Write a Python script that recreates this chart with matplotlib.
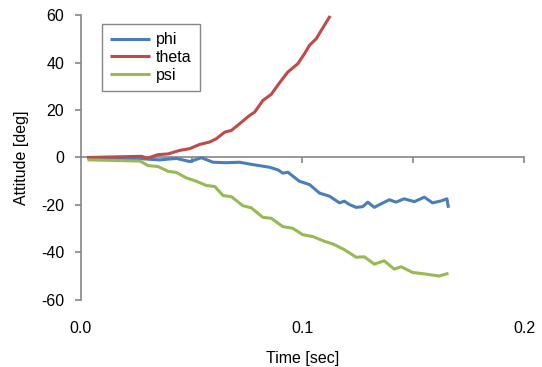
import numpy as np
import matplotlib
matplotlib.use('Agg')
import matplotlib.pyplot as plt

plt.rcParams['font.family'] = ['Liberation Sans', 'DejaVu Sans']
plt.rcParams['axes.unicode_minus'] = False

# time [sec] and attitude [deg]
t_theta = [0.0028, 0.0273, 0.0300, 0.0348, 0.0393, 0.0446, 0.0490, 0.0536, 0.0580,
           0.0611, 0.0649, 0.0679, 0.0716, 0.0761, 0.0784, 0.0821, 0.0859, 0.0896,
           0.0934, 0.0979, 0.1009, 0.1032, 0.1062, 0.1099, 0.1125]
theta = [0.0, 0.5, -0.3, 1.2, 1.5, 3.0, 3.7, 5.5, 6.5,
         7.9, 10.7, 11.4, 14.2, 17.7, 19.1, 24.0, 26.6, 31.4,
         36.0, 39.5, 43.7, 47.3, 50.0, 55.7, 59.6]

t_phi = [0.0030, 0.0266, 0.0356, 0.0431, 0.0491, 0.0544, 0.0596, 0.0656, 0.0716,
         0.0776, 0.0851, 0.0889, 0.0911, 0.0934, 0.0986, 0.1032, 0.1077, 0.1122,
         0.1167, 0.1189, 0.1212, 0.1242, 0.1272, 0.1295, 0.1324, 0.1355, 0.1392,
         0.1422, 0.1459, 0.1505, 0.1550, 0.1587, 0.1625, 0.1652, 0.1659]
phi = [-0.5, -0.5, -1.0, -0.4, -1.7, -0.1, -2.0, -2.2, -2.0,
       -3.0, -4.1, -5.2, -6.6, -6.2, -10.0, -11.4, -15.0, -16.3,
       -19.1, -18.4, -19.8, -21.0, -20.7, -18.8, -21.0, -19.5, -17.8,
       -18.8, -17.4, -18.6, -16.7, -19.1, -18.3, -17.4, -21.2]

t_psi = [0.0030, 0.0266, 0.0303, 0.0348, 0.0393, 0.0431, 0.0476, 0.0521, 0.0566,
         0.0604, 0.0641, 0.0679, 0.0731, 0.0769, 0.0821, 0.0859, 0.0911, 0.0956,
         0.1001, 0.1047, 0.1099, 0.1137, 0.1189, 0.1242, 0.1279, 0.1324, 0.1369,
         0.1414, 0.1445, 0.1497, 0.1557, 0.1617, 0.1659]
psi = [-1.0, -1.5, -3.4, -3.8, -5.8, -6.3, -8.6, -10.0, -11.8,
       -12.2, -16.0, -16.5, -20.3, -21.2, -25.2, -25.6, -29.1, -29.8,
       -32.5, -33.3, -35.3, -36.4, -38.8, -42.0, -41.8, -44.9, -43.5,
       -47.0, -46.0, -48.4, -49.1, -49.9, -48.8]

y_ticks = [-60, -40, -20, 0, 20, 40, 60]
x_labels = [0.0, 0.1, 0.2]

# %%
axis_grey = '#868686'
fs = 11.5
fig = plt.figure(figsize=(5.42, 3.67), dpi=100)
ax = fig.add_axes([0.1494, 0.1826, 0.8174, 0.7765])

style = dict(lw=2.2, solid_joinstyle='round', solid_capstyle='butt')
ax.plot(t_phi, phi, color='#4a7ebb', label='phi', **style)
ax.plot(t_theta, theta, color='#be4b48', label='theta', **style)
ax.plot(t_psi, psi, color='#98b954', label='psi', **style)

ax.set_xlim(0, 0.2)
ax.set_ylim(-60, 60)

for s in ['top', 'right']:
    ax.spines[s].set_visible(False)
ax.spines['left'].set_color(axis_grey)
ax.spines['left'].set_linewidth(1.2)
ax.spines['bottom'].set_position(('data', 0))
ax.spines['bottom'].set_color(axis_grey)
ax.spines['bottom'].set_linewidth(1.2)
ax.spines['bottom'].set_zorder(1)

ax.set_yticks(y_ticks)
ax.tick_params(axis='y', direction='out', length=4, width=1.2, color=axis_grey,
               labelsize=fs, pad=8)
ax.set_xticks(np.arange(0.05, 0.201, 0.05))
ax.tick_params(axis='x', direction='out', length=4, width=1.2, color=axis_grey,
               labelbottom=False)

# tick labels for time sit below the plot, not on the zero line
sec = ax.secondary_xaxis(location=0)
sec.set_xticks(x_labels)
sec.set_xticklabels([f'{v:.1f}' for v in x_labels])
sec.spines['bottom'].set_visible(False)
sec.tick_params(axis='x', length=0, labelsize=fs, pad=15)

ax.set_ylabel('Attitude [deg]', fontsize=fs, labelpad=9)
sec.set_xlabel('Time [sec]', fontsize=fs, labelpad=11)

leg = ax.legend(loc='upper left', bbox_to_anchor=(0.047, 0.968), fontsize=fs,
                frameon=True, fancybox=False, framealpha=1, edgecolor=axis_grey,
                handlelength=2.5, handletextpad=0.4, labelspacing=0.18,
                borderpad=0.5, borderaxespad=0)
leg.get_frame().set_linewidth(1.0)

fig.savefig('out.png', dpi=100)
